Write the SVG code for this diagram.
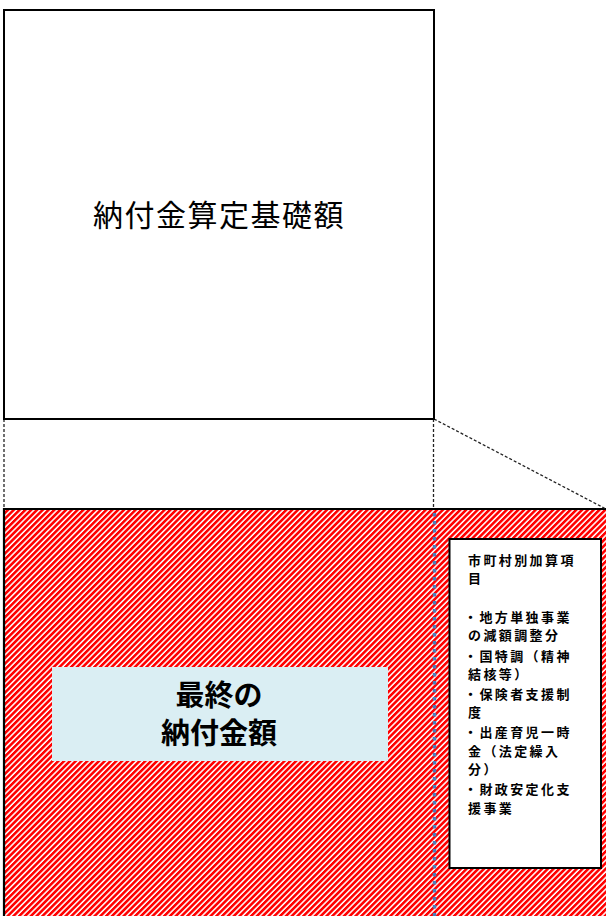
<svg xmlns="http://www.w3.org/2000/svg" width="606" height="916" viewBox="0 0 606 916">
<style>
.box{fill:#fff;stroke:#000;stroke-width:2}
.dash{fill:none;stroke:#222;stroke-width:1.3;stroke-dasharray:3 2}
.jp{font-family:"Noto Sans CJK JP","Noto Sans CJK SC",sans-serif;fill:#000}
.side{font-size:13px;font-weight:700;letter-spacing:2.4px}
</style>
<defs>
<pattern id="hatch" patternUnits="userSpaceOnUse" width="4.1" height="4.1" patternTransform="rotate(45)">
<rect width="4.1" height="4.1" fill="#fff"/>
<rect width="2.6" height="4.1" fill="#ff0000"/>
</pattern>
</defs>
<rect width="606" height="916" fill="#fff"/>
<g id="hatched-area">
<rect x="4" y="509" width="604" height="410" fill="url(#hatch)"/>
<path d="M4,918 V509 H608" fill="none" stroke="#000" stroke-width="2.2"/>
</g>
<g id="connectors">
<line class="dash" x1="4" y1="419" x2="4" y2="509"/>
<line class="dash" x1="433.5" y1="419" x2="433.5" y2="509"/>
<line class="dash" x1="434" y1="419" x2="606" y2="509"/>
<line x1="434.5" y1="513" x2="434.5" y2="916" stroke="#4A7EBB" stroke-width="3.4" stroke-dasharray="3.4 4.6"/>
</g>
<g id="base-amount">
<rect class="box" x="4" y="10" width="430" height="409"/>
<text class="jp" x="219" y="226" font-size="30" letter-spacing="1.5" text-anchor="middle">納付金算定基礎額</text>
</g>
<g id="final-amount">
<rect x="52" y="667" width="336" height="94" fill="#DAEEF3"/>
<text class="jp" x="219" y="706" font-size="29" font-weight="700" text-anchor="middle">最終の</text>
<text class="jp" x="219" y="744" font-size="29" font-weight="700" text-anchor="middle">納付金額</text>
</g>
<g id="municipal-items">
<rect class="box" x="449.5" y="539" width="151.5" height="329"/>
<text class="jp side">
<tspan x="468" y="565">市町村別加算項</tspan>
<tspan x="468" y="583">目</tspan>
<tspan x="464" y="622">・地方単独事業</tspan>
<tspan x="468" y="640">の減額調整分</tspan>
<tspan x="464" y="661">・国特調（精神</tspan>
<tspan x="468" y="679">結核等）</tspan>
<tspan x="464" y="699">・保険者支援制</tspan>
<tspan x="468" y="717">度</tspan>
<tspan x="464" y="737">・出産育児一時</tspan>
<tspan x="468" y="756">金（法定繰入</tspan>
<tspan x="468" y="774">分）</tspan>
<tspan x="464" y="794">・財政安定化支</tspan>
<tspan x="468" y="813">援事業</tspan>
</text>
</g>
</svg>
